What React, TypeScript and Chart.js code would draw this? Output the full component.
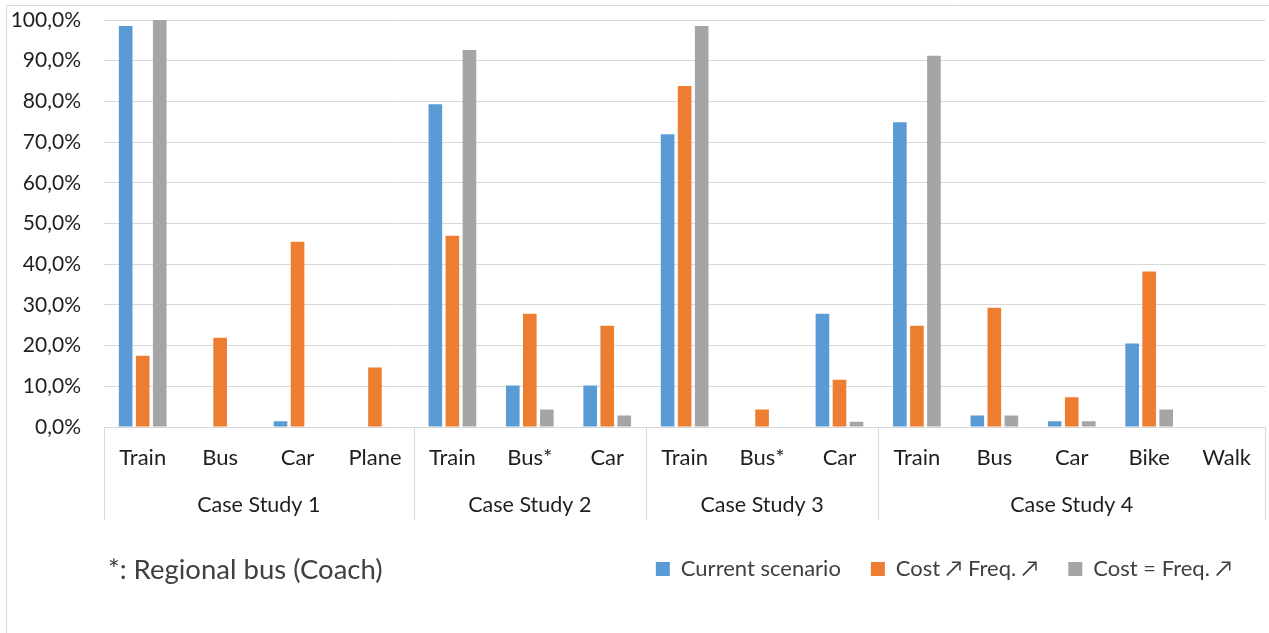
import React, { useEffect, useRef } from "react";
import { Chart, registerables } from "chart.js";

Chart.register(...registerables);

// ---- data ----
const categories = ["Train", "Bus", "Car", "Plane", "Train", "Bus*", "Car", "Train", "Bus*", "Car", "Train", "Bus", "Car", "Bike", "Walk"];
const groupNames = ["Case Study 1", "Case Study 2", "Case Study 3", "Case Study 4"];
const groupSizes = [4, 3, 3, 5];
const currentScenario = [98.5, 0, 1.4, 0, 79.3, 10.2, 10.2, 71.9, 0, 27.8, 74.9, 2.8, 1.4, 20.5, 0];
const costUpFreqUp = [17.5, 21.9, 45.5, 14.6, 47.0, 27.8, 24.9, 83.8, 4.3, 11.6, 24.9, 29.3, 7.3, 38.2, 0];
const costEqFreqUp = [100, 0, 0, 0, 92.6, 4.3, 2.8, 98.5, 0, 1.3, 91.2, 2.8, 1.4, 4.3, 0];
const seriesNames = ["Current scenario", "Cost \u2197 Freq. \u2197", "Cost = Freq. \u2197"];
const footnote = "*: Regional bus (Coach)";

const FONT = "Lato, 'Open Sans', sans-serif";
const GRID = "#d9d9d9";
const AXIS_TEXT = "#1f1f1f";
const LEGEND_TEXT = "#404040";

const W = 1269;
const H = 633;

const decorPlugin = {
  id: "decor",
  afterLayout(chart: any) {
    if (chart.legend) {
      chart.legend.right -= 7;
      chart.legend.width -= 7;
    }
  },
  beforeDraw(chart: any) {
    const ctx = chart.ctx;
    ctx.save();
    ctx.strokeStyle = GRID;
    ctx.lineWidth = 1;
    ctx.beginPath();
    ctx.moveTo(6.5, H);
    ctx.lineTo(6.5, 5.5);
    ctx.lineTo(W, 5.5);
    ctx.stroke();
    ctx.restore();
  },
  afterDraw(chart: any) {
    const ctx = chart.ctx;
    const x = chart.scales.x;
    const area = chart.chartArea;
    const boundary = (i: number) => {
      if (i <= 0) return area.left;
      if (i >= categories.length) return area.right;
      return (x.getPixelForValue(i - 1) + x.getPixelForValue(i)) / 2;
    };
    ctx.save();
    ctx.strokeStyle = GRID;
    ctx.lineWidth = 1;
    let start = 0;
    const bounds: number[] = [0];
    groupSizes.forEach((n) => {
      start += n;
      bounds.push(start);
    });
    ctx.beginPath();
    bounds.forEach((b) => {
      const px = Math.round(boundary(b)) + 0.5;
      ctx.moveTo(px, area.bottom);
      ctx.lineTo(px, 520);
    });
    ctx.stroke();
    ctx.fillStyle = AXIS_TEXT;
    ctx.font = `21.5px ${FONT}`;
    ctx.textAlign = "center";
    ctx.textBaseline = "middle";
    groupNames.forEach((g, gi) => {
      const cx = (boundary(bounds[gi]) + boundary(bounds[gi + 1])) / 2;
      ctx.fillText(g, cx, 505);
    });
    ctx.fillStyle = LEGEND_TEXT;
    ctx.font = `27.5px ${FONT}`;
    ctx.textAlign = "left";
    ctx.fillText(footnote, 108, 570);
    ctx.restore();
  },
};

export default function App() {
  const ref = useRef<HTMLCanvasElement | null>(null);
  useEffect(() => {
    if (!ref.current) return;
    const chart = new Chart(ref.current, {
      type: "bar",
      data: {
        labels: categories,
        datasets: [
          { label: seriesNames[0], data: currentScenario, backgroundColor: "#5B9BD5" },
          { label: seriesNames[1], data: costUpFreqUp, backgroundColor: "#ED7D31" },
          { label: seriesNames[2], data: costEqFreqUp, backgroundColor: "#A5A5A5" },
        ],
      },
      options: {
        animation: false,
        responsive: false,
        devicePixelRatio: 1,
        datasets: { bar: { categoryPercentage: 0.66, barPercentage: 0.8 } },
        layout: { padding: { top: 20, left: 0, right: 0, bottom: 43 } },
        plugins: {
          tooltip: { enabled: false },
          legend: {
            position: "bottom",
            align: "end",
            labels: {
              boxWidth: 14,
              boxHeight: 14,
              padding: 30,
              color: LEGEND_TEXT,
              font: { family: FONT, size: 22 },
            },
          },
        },
        scales: {
          x: {
            grid: { display: false, drawTicks: false },
            border: { display: false },
            ticks: {
              color: AXIS_TEXT,
              font: { family: FONT, size: 22 },
              padding: 18,
              maxRotation: 0,
              autoSkip: false,
            },
            afterFit: (s: any) => {
              s.height = 101;
            },
          },
          y: {
            min: 0,
            max: 100,
            grid: { color: GRID, lineWidth: 1, drawTicks: false },
            border: { display: false },
            ticks: {
              stepSize: 10,
              padding: 23,
              color: AXIS_TEXT,
              font: { family: FONT, size: 21 },
              callback: (v: any) => Number(v).toFixed(1).replace(".", ",") + "%",
            },
            afterFit: (s: any) => {
              s.width = 104;
              s.paddingTop = 12;
              s.paddingBottom = 12;
            },
          },
        },
      },
      plugins: [decorPlugin],
    });
    return () => chart.destroy();
  }, []);
  return (
    <div style={{ position: "absolute", left: 0, top: 0, width: W, height: H, background: "#fff" }}>
      <canvas ref={ref} width={W} height={H} style={{ display: "block" }} />
    </div>
  );
}
